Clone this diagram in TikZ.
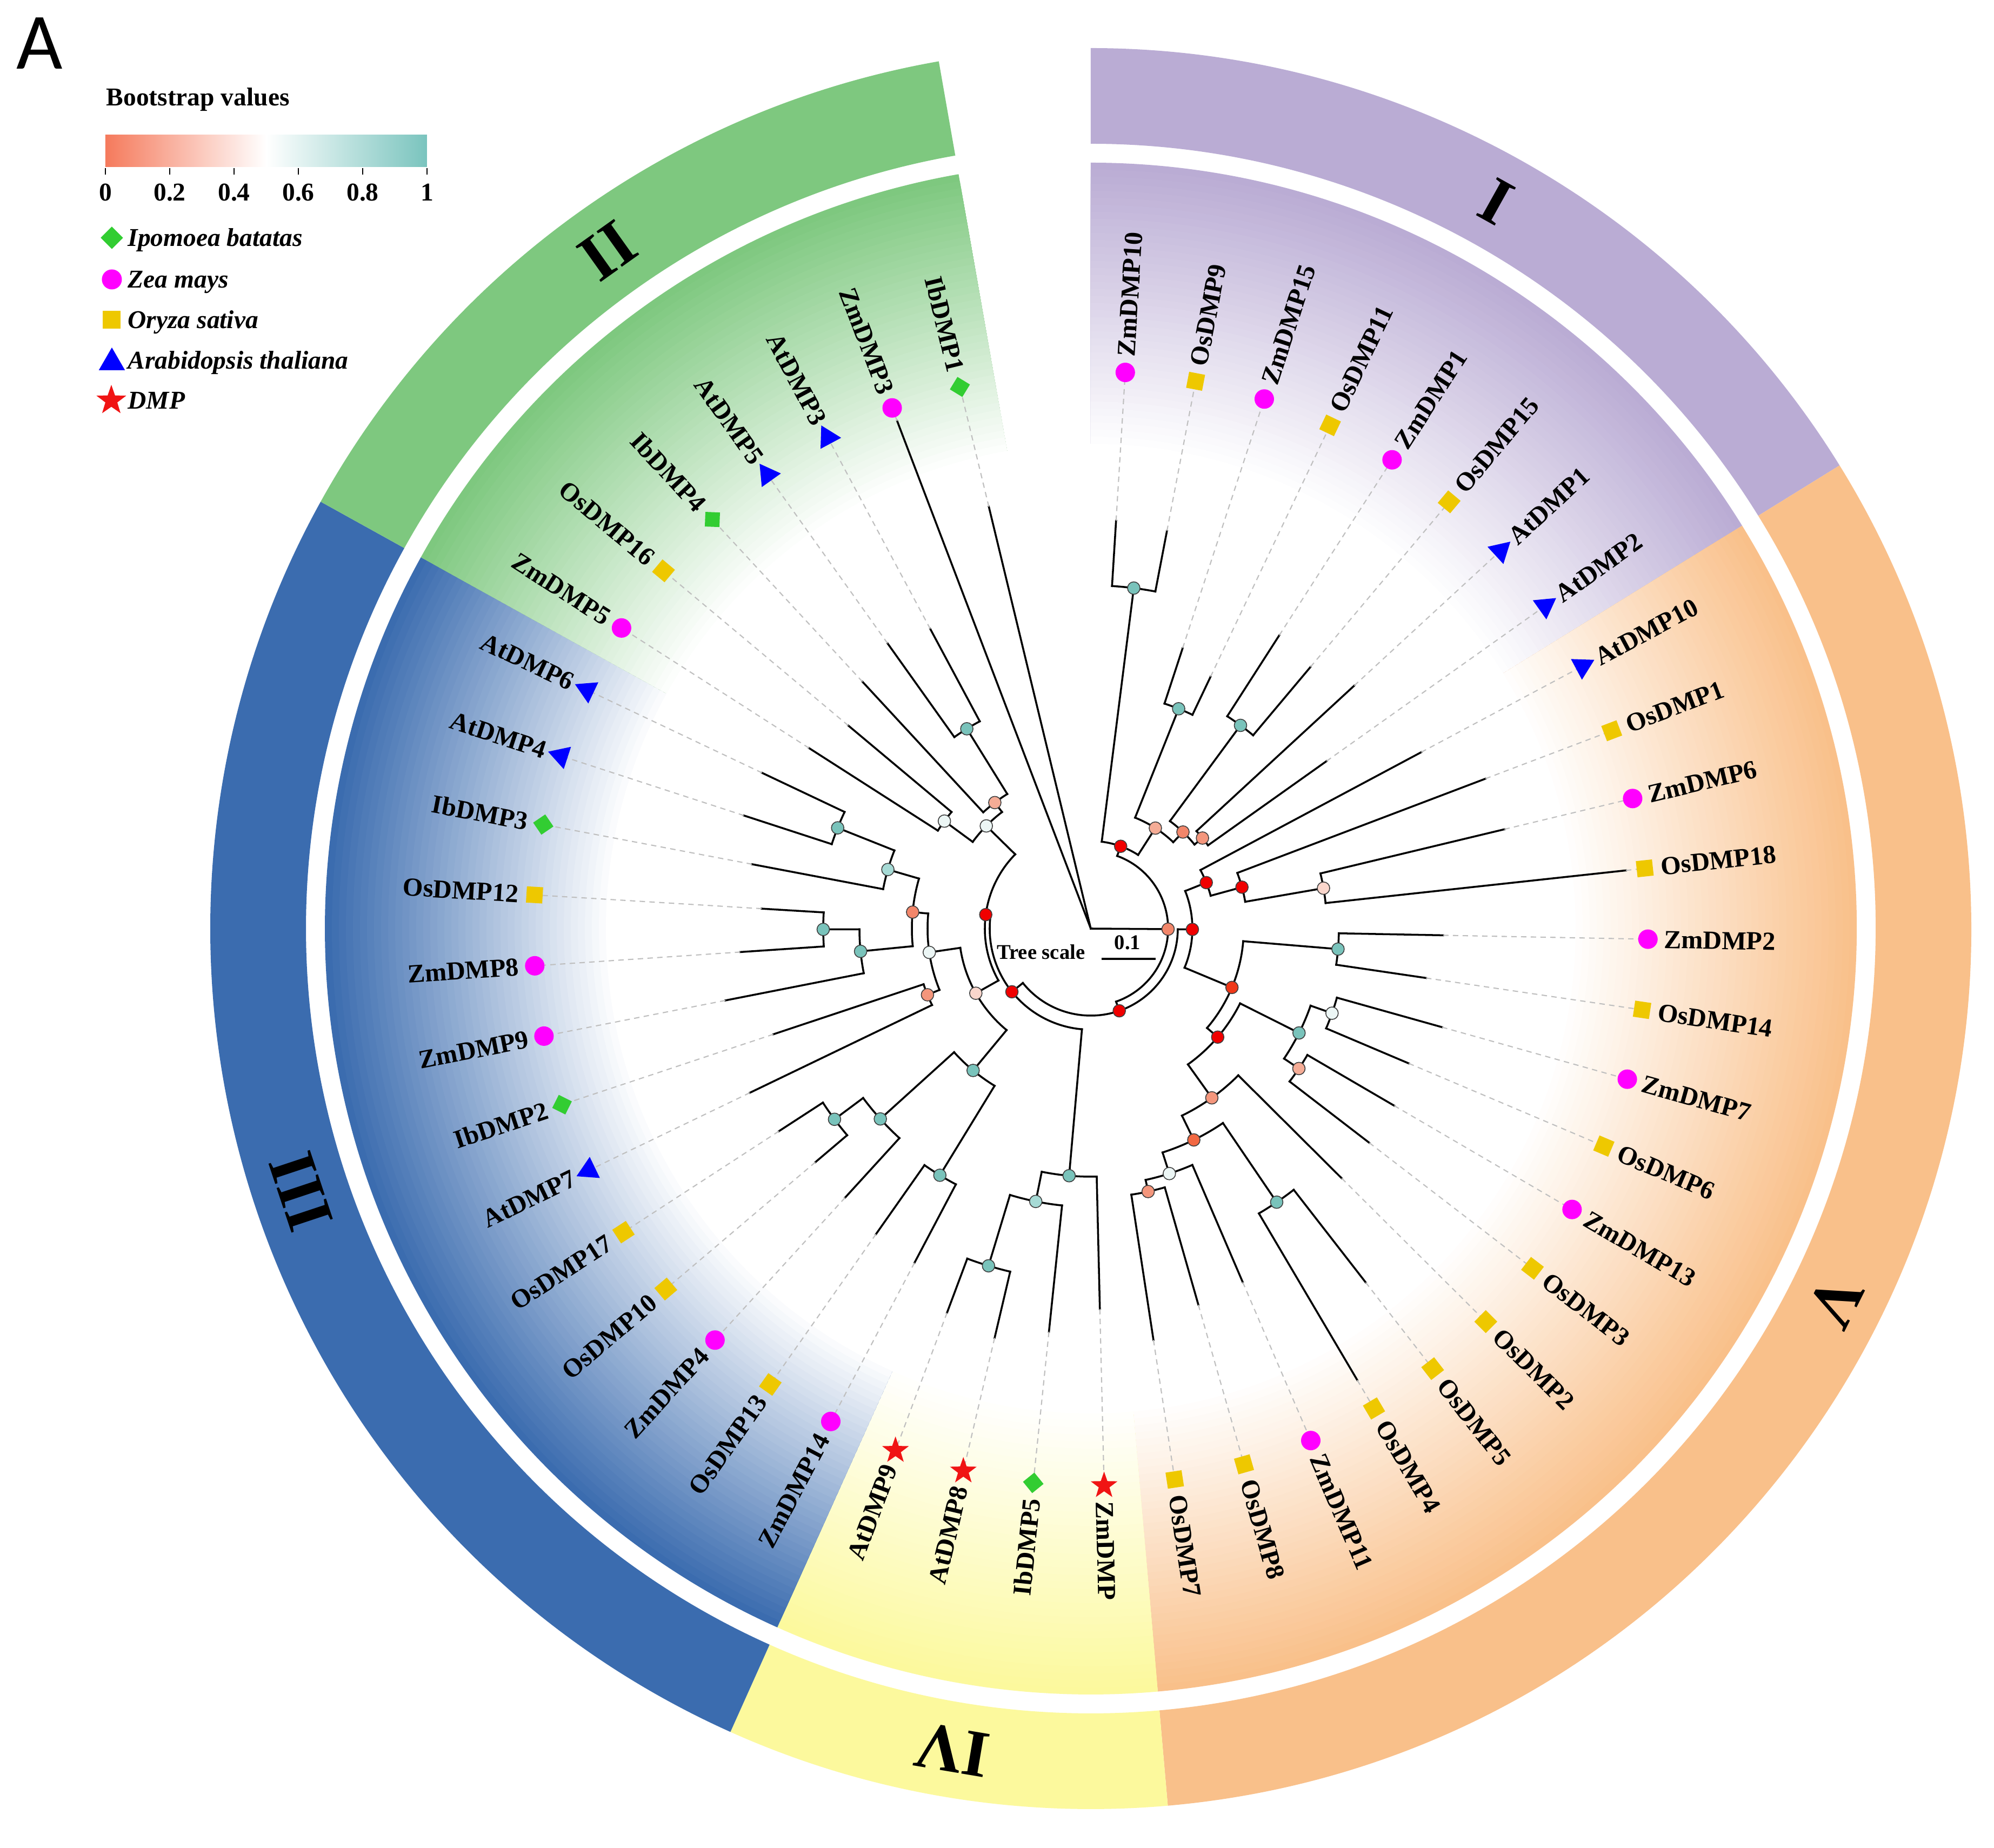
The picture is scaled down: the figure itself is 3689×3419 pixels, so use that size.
\documentclass[tikz,border=0pt]{standalone}
\usepackage{fontspec}
\setmainfont{Liberation Serif}
\newfontfamily\sansA{Carlito}
\usetikzlibrary{shapes.geometric}

\definecolor{cP}{RGB}{186,172,212}
\definecolor{cO}{RGB}{249,192,138}
\definecolor{cY}{RGB}{252,249,157}
\definecolor{cB}{RGB}{59,108,175}
\definecolor{cG}{RGB}{126,200,127}

\definecolor{mZm}{RGB}{255,0,255}
\definecolor{mOs}{RGB}{238,200,0}
\definecolor{mAt}{RGB}{0,0,255}
\definecolor{mIb}{RGB}{50,205,50}
\definecolor{mSt}{RGB}{240,20,20}

\definecolor{bsLo}{RGB}{245,122,92}
\definecolor{bsHi}{RGB}{122,196,190}
\definecolor{bRed}{RGB}{240,0,0}
\definecolor{bRO}{RGB}{240,56,24}
\definecolor{bO3}{RGB}{242,104,66}
\definecolor{bOr}{RGB}{242,134,106}
\definecolor{bSa}{RGB}{244,150,124}
\definecolor{bLs}{RGB}{245,172,150}
\definecolor{bPk}{RGB}{250,214,204}
\definecolor{bWh}{RGB}{236,246,245}
\definecolor{bTe}{RGB}{121,195,187}
\definecolor{bLt}{RGB}{166,218,213}

\pgfdeclarelayer{fg}
\pgfsetlayers{main,fg}

% coloured clade: colour, bearing from, bearing to
\newcommand{\clade}[3]{%
  \foreach \k in {0,...,39} {
    \pgfmathsetmacro{\rr}{1417-\k*13}
    \pgfmathsetmacro{\pc}{100-\k*2.5}
    \fill[#1!\pc!white] (0,0) -- ({90-#2}:\rr) arc[start angle={90-#2}, end angle={90-#3}, radius=\rr] -- cycle;
  }
  \fill[#1] ({90-#2}:1452) arc[start angle={90-#2}, end angle={90-#3}, radius=1452]
    -- ({90-#3}:1629) arc[start angle={90-#3}, end angle={90-#2}, radius=1629] -- cycle;
}
% internal node: name, bearing, parent radius, radius, first child bearing, last child bearing, fill
\newcommand{\inode}[7]{%
  \draw[br] ({90-#2}:#3) -- ({90-#2}:#4);
  \draw[br] ({90-(#5)}:#4) arc[start angle={90-(#5)}, end angle={90-(#6)}, radius=#4];
  \begin{pgfonlayer}{fg}\node[bs, fill=#7] (#1) at ({90-#2}:#4) {};\end{pgfonlayer}
}
% leaf: index, parent radius, tip radius, name, marker style
\newcommand{\leaf}[5]{%
  \pgfmathsetmacro{\lb}{3.55+7.295*#1}%
  \pgfmathsetmacro{\la}{90-\lb}%
  \draw[br] (\la:#2) -- (\la:#3);
  \draw[dl] (\la:#3) -- (\la:1031);
  \node[#5] (m#4) at (\la:1031) {};
  \ifdim\lb pt<180pt
    \node[lab, anchor=west, rotate=\la] (t#4) at (\la:1060) {#4};
  \else
    \pgfmathsetmacro{\lr}{\la+180}%
    \node[lab, anchor=east, rotate=\lr] (t#4) at (\la:1060) {#4};
  \fi
}

\begin{document}
\begin{tikzpicture}[x=0.01cm, y=0.01cm,
  br/.style={line width=1pt, line cap=rect, black},
  dl/.style={line width=0.6pt, gray!50, dash pattern=on 0.1cm off 0.08cm},
  bs/.style={circle, draw=black!75, line width=0.45pt, inner sep=0pt, minimum size=0.23cm},
  lab/.style={font=\fontsize{13.7}{14}\selectfont\bfseries, inner sep=0pt},
  rom/.style={font=\fontsize{35}{35}\selectfont\bfseries, inner sep=0pt},
  mkzm/.style={circle, fill=mZm, inner sep=0pt, minimum size=0.36cm},
  mkos/.style={rectangle, fill=mOs, inner sep=0pt, minimum size=0.30cm, rotate=-\lb},
  mkib/.style={rectangle, fill=mIb, inner sep=0pt, minimum size=0.27cm, rotate=45-\lb},
  mkat/.style={regular polygon, regular polygon sides=3, fill=mAt, inner sep=0pt, minimum size=0.50cm, rotate=-\lb},
  mkst/.style={star, star points=5, star point ratio=2.5, fill=mSt, inner sep=0pt, minimum size=0.52cm},
  leg/.style={font=\fontsize{13.5}{14}\selectfont\bfseries\itshape, inner sep=0pt, anchor=base west}
]
\fill[white] (-2018,-1701) rectangle (1671,1718);
\useasboundingbox (-2018,-1701) rectangle (1671,1718);

% clade backgrounds and outer bands
\clade{cP}{0}{58.26}
\clade{cO}{58.26}{174.98}
\clade{cY}{174.98}{204.16}
\clade{cB}{204.16}{299.0}
\clade{cG}{299.0}{350.06}
\fill[white] (0,0) circle[radius=897];

\node[rom, rotate=-29.13] (nI) at ({90-29.13}:1540) {I};
\node[rom, rotate=-116.62] (nV) at ({90-116.62}:1540) {V};
\node[rom, rotate=-189.57] (nIV) at ({90-189.57}:1540) {IV};
\node[rom, rotate=-251.58] (nIII) at ({90-251.58}:1540) {III};
\node[rom, rotate=-324.53] (nII) at ({90-324.53}:1540) {II};

% tree: internal nodes
\inode{O1}{90.42}{0}{143}{19.96}{160.88}{bOr}
\inode{R1}{19.96}{143}{162}{7.1975}{32.73}{bRed}
\inode{T1}{7.1975}{162}{635}{3.55}{10.845}{bTe}
\inode{S1}{32.73}{162}{221}{21.79}{43.67}{bLs}
\inode{T2}{21.79}{221}{438}{18.14}{25.435}{bTe}
\inode{S2}{43.67}{221}{247}{36.38}{50.97}{bOr}
\inode{T3}{36.38}{247}{467}{32.73}{40.025}{bTe}
\inode{S3}{50.97}{247}{266}{47.32}{54.615}{bSa}
\inode{R2}{160.88}{143}{161}{90.47}{231.29}{bRed}
\inode{R3}{90.47}{161}{188}{68.3}{112.63}{bRed}
\inode{R6}{68.3}{188}{230}{61.91}{74.68}{bRed}
\inode{R7}{74.68}{230}{290}{69.205}{80.15}{bRed}
\inode{P2}{80.15}{290}{437}{76.5}{83.795}{bPk}
\inode{R8}{112.63}{188}{283}{94.74}{130.53}{bRO}
\inode{T4}{94.74}{283}{459}{91.09}{98.385}{bTe}
\inode{R9}{130.53}{283}{309}{116.62}{144.43}{bRed}
\inode{T5}{116.62}{309}{431}{109.33}{123.92}{bTe}
\inode{W1}{109.33}{431}{473}{105.68}{112.975}{bWh}
\inode{P3}{123.92}{431}{464}{120.27}{127.565}{bLs}
\inode{O2}{144.43}{309}{385}{134.86}{154.01}{bSa}
\inode{O3}{154.01}{385}{435}{145.8}{162.22}{bO3}
\inode{T6}{145.8}{435}{612}{142.155}{149.45}{bTe}
\inode{W2}{162.22}{435}{476}{156.745}{167.69}{bWh}
\inode{S4}{167.69}{476}{498}{164.04}{171.335}{bSa}
\inode{R5}{231.29}{161}{187}{185.01}{277.57}{bRed}
\inode{T7}{185.01}{187}{459}{178.63}{191.4}{bTe}
\inode{T8}{191.4}{459}{515}{185.925}{196.87}{bLt}
\inode{T9}{196.87}{515}{652}{193.22}{200.515}{bTe}
\inode{R4}{277.57}{187}{196}{240.64}{314.5}{bRed}
\inode{P1}{240.64}{196}{244}{219.67}{261.61}{bPk}
\inode{T10}{219.67}{244}{341}{211.46}{227.87}{bTe}
\inode{T11}{211.46}{341}{535}{207.81}{215.105}{bTe}
\inode{T12}{227.87}{341}{525}{222.4}{233.34}{bTe}
\inode{T13}{233.34}{525}{591}{229.695}{236.99}{bTe}
\inode{W3}{261.61}{244}{302}{247.93}{275.29}{bWh}
\inode{O4}{247.93}{302}{326}{244.285}{251.58}{bSa}
\inode{O5}{275.29}{302}{331}{264.35}{286.23}{bOr}
\inode{T14}{264.35}{331}{428}{258.875}{269.82}{bTe}
\inode{T15}{269.82}{428}{495}{266.17}{273.465}{bTe}
\inode{T16}{286.23}{331}{391}{280.76}{291.7}{bLt}
\inode{T17}{291.7}{391}{504}{288.055}{295.35}{bTe}
\inode{W4}{314.5}{196}{271}{306.29}{322.71}{bWh}
\inode{W5}{306.29}{271}{336}{302.645}{309.94}{bWh}
\inode{S5}{322.71}{271}{293}{317.235}{328.18}{bLs}
\inode{T18}{328.18}{293}{435}{324.53}{331.825}{bTe}

% leaves
\leaf{0}{635}{756}{ZmDMP10}{mkzm}
\leaf{1}{635}{749}{OsDMP9}{mkos}
\leaf{2}{438}{546}{ZmDMP15}{mkzm}
\leaf{3}{438}{516}{OsDMP11}{mkos}
\leaf{4}{467}{645}{ZmDMP1}{mkzm}
\leaf{5}{467}{632}{OsDMP15}{mkos}
\leaf{6}{266}{663}{AtDMP1}{mkat}
\leaf{7}{266}{535}{AtDMP2}{mkat}
\leaf{8}{230}{693}{AtDMP10}{mkat}
\leaf{9}{290}{781}{OsDMP1}{mkos}
\leaf{10}{437}{787}{ZmDMP6}{mkzm}
\leaf{11}{437}{996}{OsDMP18}{mkos}
\leaf{12}{459}{652}{ZmDMP2}{mkzm}
\leaf{13}{459}{627}{OsDMP14}{mkos}
\leaf{14}{473}{675}{ZmDMP7}{mkzm}
\leaf{15}{473}{639}{OsDMP6}{mkos}
\leaf{16}{464}{650}{ZmDMP13}{mkzm}
\leaf{17}{464}{650}{OsDMP3}{mkos}
\leaf{18}{385}{655}{OsDMP2}{mkos}
\leaf{19}{612}{829}{OsDMP5}{mkos}
\leaf{20}{612}{970}{OsDMP4}{mkos}
\leaf{21}{476}{712}{ZmDMP11}{mkzm}
\leaf{22}{498}{724}{OsDMP8}{mkos}
\leaf{23}{498}{770}{OsDMP7}{mkos}
\leaf{24}{459}{704}{ZmDMP}{mkst}
\leaf{25}{515}{750}{IbDMP5}{mkib}
\leaf{26}{652}{778}{AtDMP8}{mkst}
\leaf{27}{652}{759}{AtDMP9}{mkst}
\leaf{28}{535}{699}{ZmDMP14}{mkzm}
\leaf{29}{535}{691}{OsDMP13}{mkos}
\leaf{30}{525}{674}{ZmDMP4}{mkzm}
\leaf{31}{591}{668}{OsDMP10}{mkos}
\leaf{32}{591}{688}{OsDMP17}{mkos}
\leaf{33}{326}{700}{AtDMP7}{mkat}
\leaf{34}{326}{619}{IbDMP2}{mkib}
\leaf{35}{428}{689}{ZmDMP9}{mkzm}
\leaf{36}{495}{650}{ZmDMP8}{mkzm}
\leaf{37}{495}{610}{OsDMP12}{mkos}
\leaf{38}{391}{638}{IbDMP3}{mkib}
\leaf{39}{504}{675}{AtDMP4}{mkat}
\leaf{40}{504}{673}{AtDMP6}{mkat}
\leaf{41}{336}{619}{ZmDMP5}{mkzm}
\leaf{42}{336}{585}{OsDMP16}{mkos}
\leaf{43}{293}{622}{IbDMP4}{mkib}
\leaf{44}{435}{648}{AtDMP5}{mkat}
\leaf{45}{435}{629}{AtDMP3}{mkat}
\leaf{46}{0}{1005}{ZmDMP3}{mkzm}
\leaf{47}{0}{803}{IbDMP1}{mkib}

% tree scale
\node[font=\fontsize{11}{12}\selectfont\bfseries, inner sep=0pt] (tsc) at (-92,-43) {Tree scale};
\node[font=\fontsize{11}{12}\selectfont\bfseries, inner sep=0pt] (tsv) at (68,-26) {0.1};
\coordinate (sb1) at (20,-56);
\coordinate (sb2) at (120,-56);
\draw[line width=1.3pt] (sb1) -- (sb2);

% legend
\node[font=\sansA\fontsize{42}{42}\selectfont, inner sep=0pt] (lA) at (-1945,1638) {A};
\node[font=\fontsize{13.5}{14}\selectfont\bfseries, inner sep=0pt, anchor=base west] (lbt) at (-1822,1522) {Bootstrap values};
\shade[left color=bsLo, right color=bsHi, middle color=white] (-1823,1409.5) rectangle (-1228,1468);
\foreach \tx/\tl in {-1823/0, -1704/0.2, -1585/0.4, -1466/0.6, -1347/0.8, -1228/1} {
  \draw[line width=0.7pt] (\tx,1407) -- (\tx,1395);
  \node[font=\fontsize{13.5}{14}\selectfont\bfseries, inner sep=0pt] at (\tx,1362) {\tl};
}
\node[diamond, fill=mIb, inner sep=0pt, minimum size=0.42cm] (lg1) at (-1811,1278) {};
\node[circle, fill=mZm, inner sep=0pt, minimum size=0.37cm] (lg2) at (-1811,1201) {};
\node[rectangle, fill=mOs, inner sep=0pt, minimum size=0.33cm] (lg3) at (-1811,1126) {};
\node[regular polygon, regular polygon sides=3, fill=mAt, inner sep=0pt, minimum size=0.56cm] (lg4) at (-1811,1047) {};
\node[star, star points=5, star point ratio=2.5, fill=mSt, inner sep=0pt, minimum size=0.58cm] (lg5) at (-1812,977) {};
\node[leg] at (-1782,1262) {Ipomoea batatas};
\node[leg] at (-1782,1185) {Zea mays};
\node[leg] at (-1782,1110) {Oryza sativa};
\node[leg] at (-1782,1035) {Arabidopsis thaliana};
\node[leg] at (-1782,961) {DMP};
\end{tikzpicture}
\end{document}
